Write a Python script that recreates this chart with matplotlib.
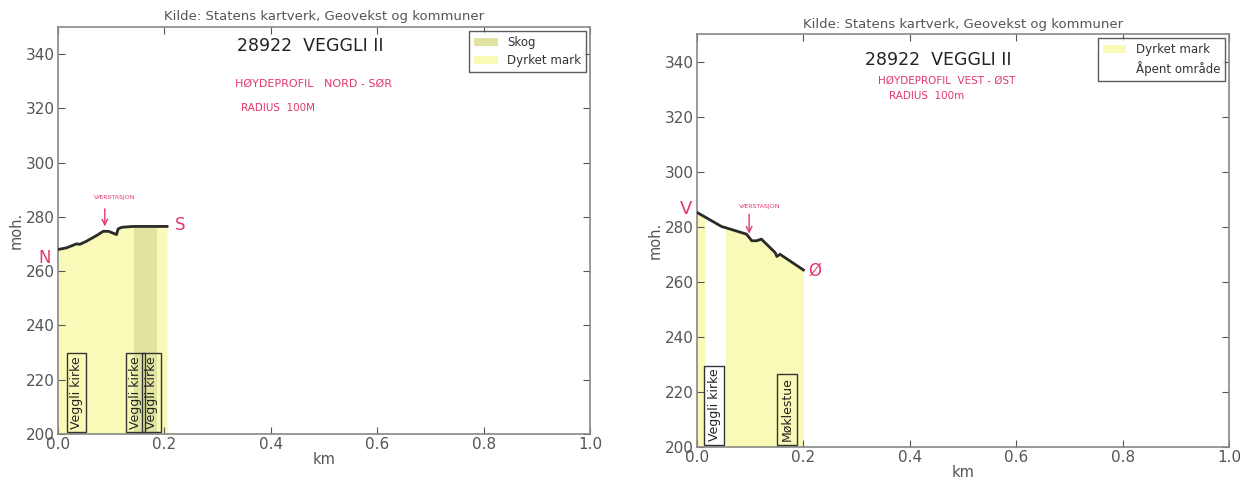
import matplotlib
matplotlib.use("Agg")
import matplotlib.pyplot as plt
import numpy as np
from matplotlib.patches import Patch

# ---------------- data ----------------
# Left profile (Nord - Sør)
ns_km = [0.0, 0.016, 0.035, 0.041, 0.054, 0.073, 0.085, 0.095, 0.110, 0.113, 0.120, 0.142, 0.205]
ns_moh = [268.0, 268.6, 270.1, 269.9, 271.1, 273.2, 274.7, 274.7, 273.5, 275.6, 276.2, 276.5, 276.5]
ns_dyrket = [(0.0, 0.205)]
ns_skog = [(0.142, 0.186)]
ns_places = ["Veggli kirke", "Veggli kirke", "Veggli kirke"]
ns_place_x = [0.035, 0.145, 0.176]

# Right profile (Vest - Øst)
vo_km = [0.0, 0.046, 0.053, 0.093, 0.103, 0.112, 0.121, 0.131, 0.147, 0.150, 0.156, 0.200]
vo_moh = [285.2, 280.1, 279.7, 277.3, 274.9, 274.9, 275.5, 273.6, 270.6, 269.2, 270.0, 264.3]
vo_dyrket = [(0.0, 0.015), (0.053, 0.200)]
vo_apent = [(0.015, 0.053)]
vo_places = ["Veggli kirke", "Møklestue"]
vo_place_x = [0.032, 0.169]

source = "Kilde: Statens kartverk, Geovekst og kommuner"
xticks = [0.0, 0.2, 0.4, 0.6, 0.8, 1.0]
yticks = [200, 220, 240, 260, 280, 300, 320, 340]

YELLOW = "#fafab8"
SKOG = "#e0e4a0"
RED = "#e2386a"
GRAY = "#555555"
SPINE = "#888888"

fig = plt.figure(figsize=(12.55, 4.82), dpi=100)
axL = fig.add_axes([58/1255, 1-434/482, (590-58)/1255, (434-27)/482])
axR = fig.add_axes([697/1255, 1-447/482, (1229-697)/1255, (447-34)/482])


def base(ax, title_y):
    ax.set_xlim(0, 1.0)
    ax.set_ylim(200, 350)
    ax.set_xticks(xticks)
    ax.set_yticks(yticks)
    ax.set_xticklabels([f"{v:.1f}" for v in xticks])
    ax.tick_params(direction="in", top=True, right=True, length=5,
                   colors=GRAY, labelsize=11, width=0.8, pad=2)
    for s in ax.spines.values():
        s.set_color(SPINE)
        s.set_linewidth(1.2)
    ax.set_xlabel("km", color=GRAY, fontsize=10.5, labelpad=0)
    ax.set_ylabel("moh.", color=GRAY, fontsize=10.5, labelpad=2)
    ax.set_title(source, color=GRAY, fontsize=9.5, pad=title_y)


def fill_spans(ax, km, moh, spans, color):
    x = np.array(km)
    y = np.array(moh)
    for a, b in spans:
        xs = np.linspace(a, b, 200)
        ys = np.interp(xs, x, y)
        ax.fill_between(xs, 200, ys, color=color, lw=0, zorder=1)


def place_labels(ax, xs, names, ybot):
    for x, n in zip(xs, names):
        ax.text(x, ybot, n, rotation=90, ha="center", va="bottom", fontsize=9,
                color="#222222",
                bbox=dict(boxstyle="square,pad=0.25", fc="none", ec="#333333", lw=1),
                zorder=4)


def legend(ax, handles):
    ax.legend(handles=handles, loc="upper right", fontsize=8.5, frameon=True,
              fancybox=False, edgecolor="#333333", handlelength=2.0,
              handletextpad=0.8, borderaxespad=0.35, borderpad=0.4,
              labelspacing=0.45, labelcolor="#333333")


# ---------- Left ----------
base(axL, 5)
fill_spans(axL, ns_km, ns_moh, ns_dyrket, YELLOW)
fill_spans(axL, ns_km, ns_moh, ns_skog, SKOG)
axL.plot(ns_km, ns_moh, color="#2a2a2a", lw=2, zorder=3)
place_labels(axL, ns_place_x, ns_places, 202)
legend(axL, [Patch(fc=SKOG, ec="none", label="Skog"),
             Patch(fc=YELLOW, ec="none", label="Dyrket mark")])
axL.text(0.474, 343, "28922  VEGGLI II", ha="center", va="center",
         fontsize=12.5, color="#222222")
axL.text(0.48, 329, "HØYDEPROFIL   NORD - SØR", ha="center", va="center",
         fontsize=8, color=RED)
axL.text(0.414, 320, "RADIUS  100M", ha="center", va="center",
         fontsize=7.5, color=RED)
axL.annotate("", xy=(0.088, 275.5), xytext=(0.088, 284),
             arrowprops=dict(arrowstyle="->", color=RED, lw=1), zorder=5)
axL.text(0.107, 287, "VÆRSTASJON", ha="center", va="center", fontsize=4.5, color=RED)
axL.text(-0.025, 265, "N", ha="center", va="center", fontsize=12, color=RED,
         clip_on=False)
axL.text(0.23, 277, "S", ha="center", va="center", fontsize=12, color=RED)

# ---------- Right ----------
base(axR, 4)
fill_spans(axR, vo_km, vo_moh, vo_dyrket, YELLOW)
fill_spans(axR, vo_km, vo_moh, vo_apent, "white")
axR.plot(vo_km, vo_moh, color="#2a2a2a", lw=2, zorder=3)
place_labels(axR, vo_place_x, vo_places, 202)
legend(axR, [Patch(fc=YELLOW, ec="none", label="Dyrket mark"),
             Patch(fc="white", ec="none", label="Åpent område")])
axR.text(0.453, 340.5, "28922  VEGGLI II", ha="center", va="center",
         fontsize=12.5, color="#222222")
axR.text(0.47, 333, "HØYDEPROFIL  VEST - ØST", ha="center", va="center",
         fontsize=7.5, color=RED)
axR.text(0.432, 327.5, "RADIUS  100m", ha="center", va="center",
         fontsize=7.5, color=RED)
axR.annotate("", xy=(0.098, 276.5), xytext=(0.098, 285.5),
             arrowprops=dict(arrowstyle="->", color=RED, lw=1), zorder=5)
axR.text(0.118, 287.5, "VÆRSTASJON", ha="center", va="center", fontsize=4.5, color=RED)
axR.text(-0.02, 286.5, "V", ha="center", va="center", fontsize=13, color=RED,
         clip_on=False)
axR.text(0.222, 264, "Ø", ha="center", va="center", fontsize=12, color=RED)

fig.savefig("out.png", dpi=100)
